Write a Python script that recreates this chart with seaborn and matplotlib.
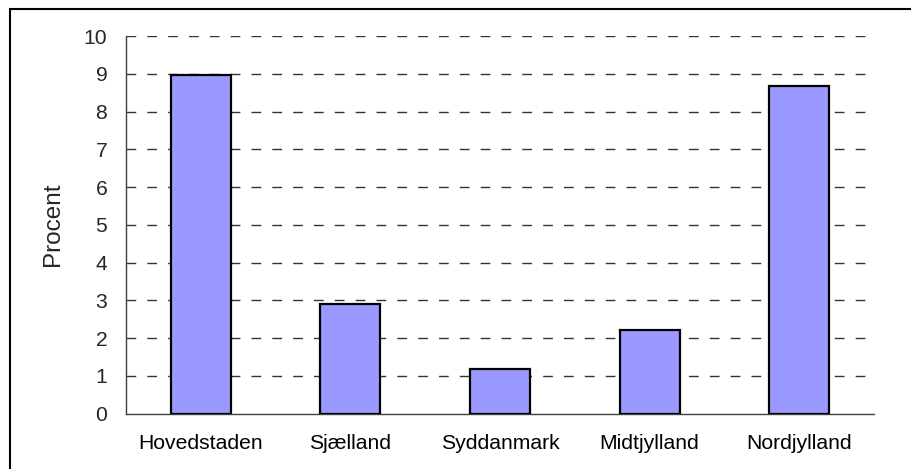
import matplotlib
matplotlib.use("Agg")
import matplotlib.pyplot as plt
import seaborn as sns
import pandas as pd
from matplotlib.lines import Line2D

regions = ["Hovedstaden", "Sjælland", "Syddanmark", "Midtjylland", "Nordjylland"]
values = [8.97, 2.91, 1.17, 2.22, 8.68]
y_ticks = [0, 1, 2, 3, 4, 5, 6, 7, 8, 9, 10]
y_label = "Procent"

sns.set_style("white")
plt.rcParams["font.family"] = ["Liberation Sans", "DejaVu Sans"]

df = pd.DataFrame({"region": regions, "procent": values})

W, H = 911, 469
fig = plt.figure(figsize=(W / 100, H / 100), dpi=100)
ax = fig.add_axes([126 / W, 1 - 413.5 / H, (874 - 126) / W, (413.5 - 36) / H])

sns.barplot(data=df, x="region", y="procent", color="#9999FF", saturation=1,
            edgecolor="black", linewidth=1.6, width=0.4, ax=ax, zorder=3)

ax.set_xlim(-0.5, len(regions) - 0.5)
ax.set_ylim(0, 10)
ax.set_yticks(y_ticks)
ax.set_yticklabels([str(t) for t in y_ticks], fontsize=15.2)
ax.set_xticks(range(len(regions)))
ax.set_xticklabels(regions, fontsize=15.2)
ax.set_xticks([i - 0.5 for i in range(len(regions) + 1)], minor=True)
ax.tick_params(axis="x", which="major", length=0, pad=15, colors="black")
ax.tick_params(axis="x", which="minor", length=7, width=1, direction="out", color="#404040")
ax.tick_params(axis="y", which="major", length=9, width=1, direction="inout",
               color="#404040", pad=9)
ax.set_xlabel("")
ax.set_ylabel(y_label, fontsize=17.5)
ax.yaxis.set_label_coords(-0.083, 0.5)

for t in y_ticks[1:]:
    ax.axhline(t, xmax=0.996, color="#333333", linewidth=1, linestyle=(0, (7, 8)), zorder=1)

for s in ["top", "right"]:
    ax.spines[s].set_visible(False)
for s in ["left", "bottom"]:
    ax.spines[s].set_color("#404040")
    ax.spines[s].set_linewidth(1)

# outer frame (left and top edges)
fig.add_artist(Line2D([10 / W, 10 / W], [0, 1 - 9 / H], transform=fig.transFigure,
                      color="black", linewidth=1.5))
fig.add_artist(Line2D([10 / W, 1], [1 - 9 / H, 1 - 9 / H], transform=fig.transFigure,
                      color="black", linewidth=1.5))

fig.savefig("out.png", dpi=100)
